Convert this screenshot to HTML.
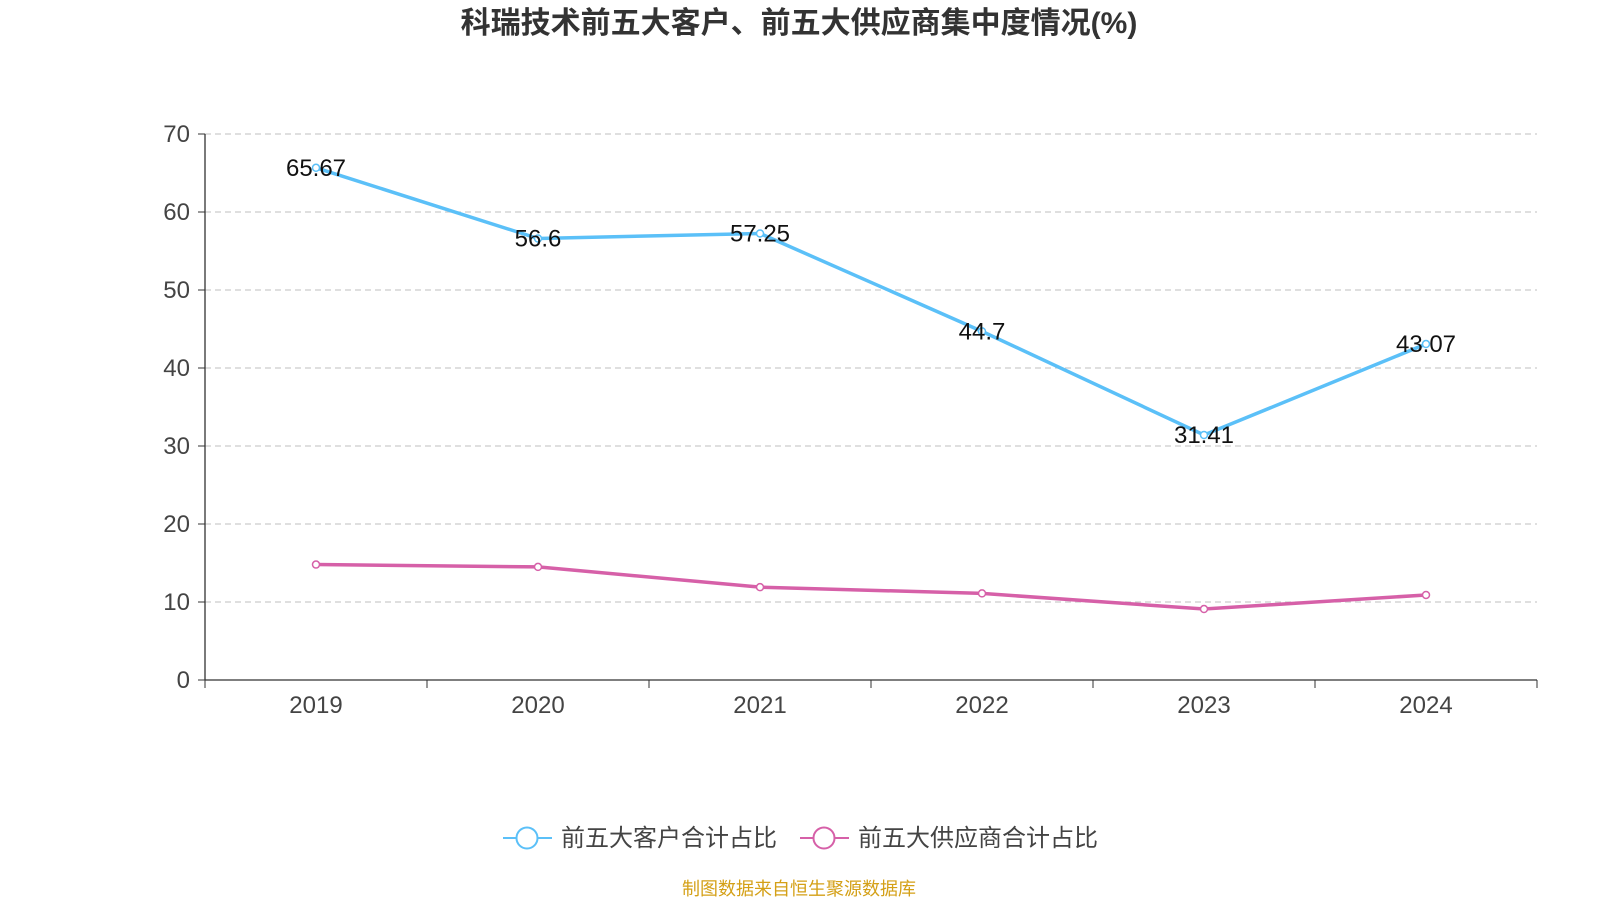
<!DOCTYPE html>
<html><head><meta charset="utf-8"><style>
body{margin:0;width:1600px;height:900px;background:#fff;overflow:hidden}
svg{display:block}
text{font-family:"Liberation Sans","Noto Sans CJK SC",sans-serif}
</style></head><body>
<svg id="chart" width="1600" height="900">
<text x="799" y="33" text-anchor="middle" font-size="30" font-weight="bold" fill="#333">科瑞技术前五大客户、前五大供应商集中度情况(%)</text>
<g id="grid"></g><g id="axes"></g><g id="series"></g>
<g>
<g>
<line x1="503" y1="838" x2="552" y2="838" stroke="#5bc0f8" stroke-width="2"/>
<circle cx="527" cy="838" r="10.5" fill="#fff" stroke="#5bc0f8" stroke-width="2"/>
<text x="561" y="846" font-size="24" fill="#444">前五大客户合计占比</text></g>
<g>
<line x1="800" y1="838" x2="849" y2="838" stroke="#d660a8" stroke-width="2"/>
<circle cx="824" cy="838" r="10.5" fill="#fff" stroke="#d660a8" stroke-width="2"/>
<text x="858" y="846" font-size="24" fill="#444">前五大供应商合计占比</text></g>
</g>
<text x="799" y="895" text-anchor="middle" font-size="18" fill="#d4a017">制图数据来自恒生聚源数据库</text>
</svg>
<script>
const categories=["2019","2020","2021","2022","2023","2024"];
const customers=[65.67,56.6,57.25,44.7,31.41,43.07];
const suppliers=[14.8,14.5,11.9,11.1,9.1,10.9];
const yTicks=[0,10,20,30,40,50,60,70];
const NS="http://www.w3.org/2000/svg";
const X0=205,X1=1537,Y0=680,Y1=134,YMAX=70;
const step=(X1-X0)/categories.length;
const xs=i=>X0+step*(i+0.5);
const ys=v=>Y0-(v/YMAX)*(Y0-Y1);
function mk(tag,attrs,parent,txt){const e=document.createElementNS(NS,tag);for(const k in attrs)e.setAttribute(k,attrs[k]);if(txt!==undefined)e.textContent=txt;parent.appendChild(e);return e;}
const grid=document.getElementById('grid'),axes=document.getElementById('axes'),ser=document.getElementById('series');
yTicks.forEach(t=>{const y=ys(t);
 if(t>0){const g=mk('line',{x1:X0,x2:X1,y1:y,y2:y,stroke:'#ccc','stroke-dasharray':'6,4','stroke-width':1.3},grid);
 
 }
 mk('line',{x1:X0-7,x2:X0,y1:y,y2:y,stroke:'#333'},axes);
 const l=mk('text',{x:X0-15,y:y+8,'text-anchor':'end','font-size':24,fill:'#444'},axes,t);
 
 
});
mk('line',{x1:X0,x2:X0,y1:Y1,y2:Y0,stroke:'#333','stroke-width':1.3},axes);
mk('line',{x1:X0,x2:X1,y1:Y0,y2:Y0,stroke:'#333','stroke-width':1.3},axes);
for(let i=0;i<=categories.length;i++){const x=X0+step*i;mk('line',{x1:x,x2:x,y1:Y0,y2:Y0+8,stroke:'#333'},axes);}
categories.forEach((c,i)=>{const l=mk('text',{x:xs(i),y:713,'text-anchor':'middle','font-size':24,fill:'#444'},axes,c);
 
 });
function draw(vals,color,name,labels){
 const p=mk('polyline',{points:vals.map((v,i)=>xs(i)+','+ys(v)).join(' '),fill:'none',stroke:color,'stroke-width':3.5},ser);
 
 
 vals.forEach((v,i)=>{const c=mk('circle',{cx:xs(i),cy:ys(v),r:3.5,fill:'#fff',stroke:color,'stroke-width':1.5},ser);
  
  
  if(labels){const t=mk('text',{x:xs(i),y:ys(v)+8,'text-anchor':'middle','font-size':24,fill:'#111'},ser,v);
  
  }
 });
}
draw(suppliers,'#d660a8','suppliers',false);
draw(customers,'#5bc0f8','customers',true);
</script>
</body></html>
